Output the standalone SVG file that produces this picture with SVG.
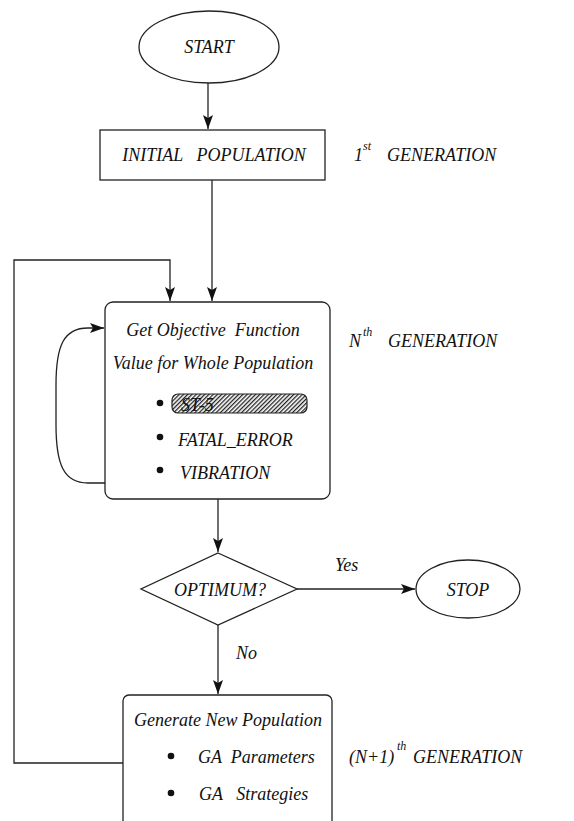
<svg xmlns="http://www.w3.org/2000/svg" width="574" height="821" viewBox="0 0 574 821">
<style>
text{font-family:"Liberation Serif","Times New Roman",serif;font-style:italic;font-size:18px;fill:#111}
.sup{font-size:12px}
.shape{fill:#fff;stroke:#222;stroke-width:1.3}
.conn{fill:none;stroke:#222;stroke-width:1.3}
.dot{fill:#111}
</style>
<defs>
<marker id="ah" viewBox="0 0 14 10" refX="14" refY="5" markerWidth="14" markerHeight="10" markerUnits="userSpaceOnUse" orient="auto">
<path d="M0,0 L14,5 L0,10 L3,5 Z" fill="#111"/>
</marker>
<pattern id="hatch" width="3" height="3" patternUnits="userSpaceOnUse" patternTransform="rotate(45)">
<rect width="3" height="3" fill="#fff"/>
<rect x="0" y="0" width="1.3" height="3" fill="#222"/>
</pattern>
</defs>
<g id="connectors">
<line class="conn" x1="208" y1="83" x2="208" y2="129" marker-end="url(#ah)"/>
<line class="conn" x1="212" y1="180" x2="212" y2="301" marker-end="url(#ah)"/>
<polyline class="conn" points="123,763 14,763 14,260 170,260 170,301" marker-end="url(#ah)"/>
<path class="conn" d="M105,483 L88,483 C64,483 56,465 56,425 L56,385 C56,345 64,328 88,328 L104,328" marker-end="url(#ah)"/>
<line class="conn" x1="218" y1="499" x2="218" y2="552" marker-end="url(#ah)"/>
<line class="conn" x1="297" y1="589" x2="415" y2="589" marker-end="url(#ah)"/>
<line class="conn" x1="218" y1="625" x2="218" y2="694" marker-end="url(#ah)"/>
<text x="335" y="571">Yes</text>
<text x="236" y="659">No</text>
</g>
<g id="start">
<ellipse class="shape" cx="209" cy="47" rx="70" ry="36"/>
<text x="209" y="53" text-anchor="middle">START</text>
</g>
<g id="initial">
<rect class="shape" x="100" y="130" width="225" height="50"/>
<text x="214" y="161" text-anchor="middle" xml:space="preserve">INITIAL   POPULATION</text>
</g>
<g id="gen1">
<text x="354" y="161">1</text>
<text class="sup" x="363" y="150">st</text>
<text x="387" y="161">GENERATION</text>
</g>
<g id="evaluate">
<rect class="shape" x="105" y="302" width="225" height="197" rx="8"/>
<text x="213" y="336" text-anchor="middle" xml:space="preserve">Get Objective  Function</text>
<text x="213" y="369" text-anchor="middle">Value for Whole Population</text>
<circle class="dot" cx="160" cy="403" r="3.3"/>
<rect x="172" y="394" width="135" height="19" rx="6" fill="url(#hatch)" stroke="#222" stroke-width="1.2"/>
<text x="181" y="411">ST-5</text>
<circle class="dot" cx="160" cy="437" r="3.3"/>
<text x="178" y="446">FATAL_ERROR</text>
<circle class="dot" cx="160" cy="470" r="3.3"/>
<text x="180" y="479">VIBRATION</text>
</g>
<g id="genN">
<text x="349" y="347">N</text>
<text class="sup" x="363" y="336">th</text>
<text x="388" y="347">GENERATION</text>
</g>
<g id="decision">
<polygon class="shape" points="218,553 297,589 218,625 141,589"/>
<text x="220" y="596" text-anchor="middle">OPTIMUM?</text>
</g>
<g id="stop">
<ellipse class="shape" cx="468" cy="589" rx="52" ry="29"/>
<text x="468" y="596" text-anchor="middle">STOP</text>
</g>
<g id="generate">
<rect class="shape" x="123" y="695" width="209" height="140" rx="6"/>
<text x="228" y="726" text-anchor="middle">Generate New Population</text>
<circle class="dot" cx="171" cy="756" r="3.3"/>
<text x="198" y="763" xml:space="preserve">GA  Parameters</text>
<circle class="dot" cx="171" cy="793" r="3.3"/>
<text x="199" y="800" xml:space="preserve">GA   Strategies</text>
</g>
<g id="genN1">
<text x="349" y="763">(N+1)</text>
<text class="sup" x="397" y="750">th</text>
<text x="413" y="763">GENERATION</text>
</g>
</svg>
